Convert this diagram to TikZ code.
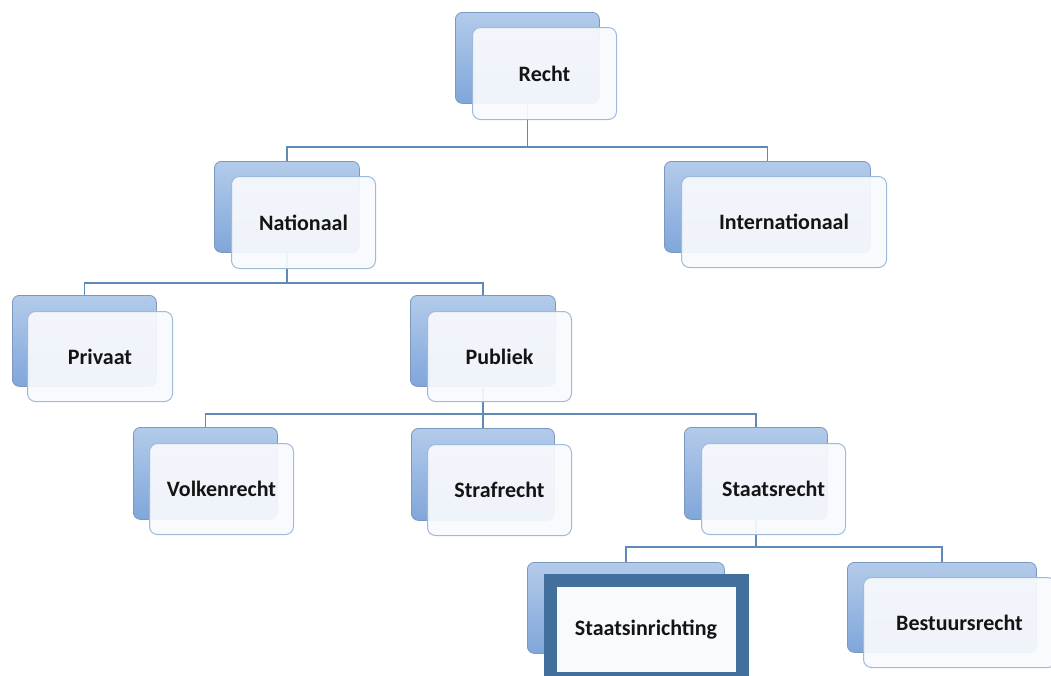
\documentclass[tikz,border=0pt]{standalone}
\usepackage{fontspec}
\setmainfont{Carlito}
\definecolor{backTop}{HTML}{B3CBEA}
\definecolor{backBot}{HTML}{80A6DA}
\definecolor{backLine}{HTML}{7D98BE}
\definecolor{frontFill}{HTML}{F8FAFD}
\definecolor{frontLine}{HTML}{9DBADB}
\definecolor{connCol}{HTML}{5F89B8}
\definecolor{hiCol}{HTML}{436F9D}
\tikzset{
  backbox/.style={shape=rectangle, rounded corners=7pt, draw=backLine, line width=0.8pt,
    top color=backTop, bottom color=backBot, inner sep=0pt, anchor=north west},
  frontbox/.style={shape=rectangle, rounded corners=8pt, draw=frontLine, line width=1pt,
    fill=frontFill, fill opacity=0.93, text opacity=1, inner sep=0pt, anchor=north west,
    font=\fontsize{22}{26}\selectfont\bfseries, text=black!92},
  hibox/.style={shape=rectangle, draw=hiCol, line width=13pt, fill=frontFill,
    inner sep=0pt, anchor=north west, font=\fontsize{22}{26}\selectfont\bfseries, text=black!92},
  conn/.style={draw=connCol, line width=1.5pt},
}
\newcommand\myback[5]{\node[backbox, minimum width=#4pt, minimum height=#5pt] (#1) at (#2,#3) {};}
\newcommand\myfront[6]{\node[frontbox, minimum width=#4pt, minimum height=#5pt] (#1) at (#2,#3) {#6};}
\begin{document}
\begin{tikzpicture}[x=1pt,y=-1pt]
\useasboundingbox (0,0) rectangle (1051,675);
\begin{scope}
\clip (0,0) rectangle (1051,675);
% back boxes
\myback{rechtB}{455}{12}{144}{91}
\myback{natB}{214}{161}{145}{91}
\myback{intB}{664}{161}{206}{91}
\myback{privB}{12}{295}{144}{91}
\myback{pubB}{410}{295}{145}{91}
\myback{volkB}{133}{427}{144}{92}
\myback{strafB}{411}{428}{143}{92}
\myback{staatB}{684}{427}{143}{92}
\myback{inrB}{527}{562}{197}{91}
\myback{bestB}{847}{562}{189}{90}
% bus coordinates
\coordinate (bus1) at (0,147);
\coordinate (bus2) at (0,283);
\coordinate (bus3) at (0,414);
\coordinate (bus4) at (0,547);
% connectors
\draw[conn] (rechtB.south) -- (rechtB.south |- bus1) -| (natB.north);
\draw[conn] (rechtB.south |- bus1) -| (intB.north);
\draw[conn] (natB.south) -- (natB.south |- bus2) -| (privB.north);
\draw[conn] (natB.south |- bus2) -| (pubB.north);
\draw[conn] (pubB.south) -- (pubB.south |- bus3) -| (volkB.north);
\draw[conn] (pubB.south |- bus3) -| (strafB.north);
\draw[conn] (pubB.south |- bus3) -| (staatB.north);
\draw[conn] (staatB.south) -- (staatB.south |- bus4) -| (inrB.north);
\draw[conn] (staatB.south |- bus4) -| (bestB.north);
% front boxes
\myfront{recht}{472}{27}{144}{92}{Recht}
\myfront{nat}{231}{176}{144}{92}{Nationaal}
\myfront{int}{681}{176}{205}{91}{Internationaal}
\myfront{priv}{27}{311}{145}{90}{Privaat}
\myfront{pub}{427}{311}{144}{90}{Publiek}
\myfront{volk}{149}{443}{144}{91}{Volkenrecht}
\myfront{straf}{427}{444}{144}{91}{Strafrecht}
\myfront{staat}{701}{443}{144}{91}{Staatsrecht}
\myfront{best}{863}{577}{192}{90}{Bestuursrecht}
\node[hibox, minimum width=192pt, minimum height=97.5pt] (inr) at (543.5,574) {Staatsinrichting};
\end{scope}
\end{tikzpicture}
\end{document}
